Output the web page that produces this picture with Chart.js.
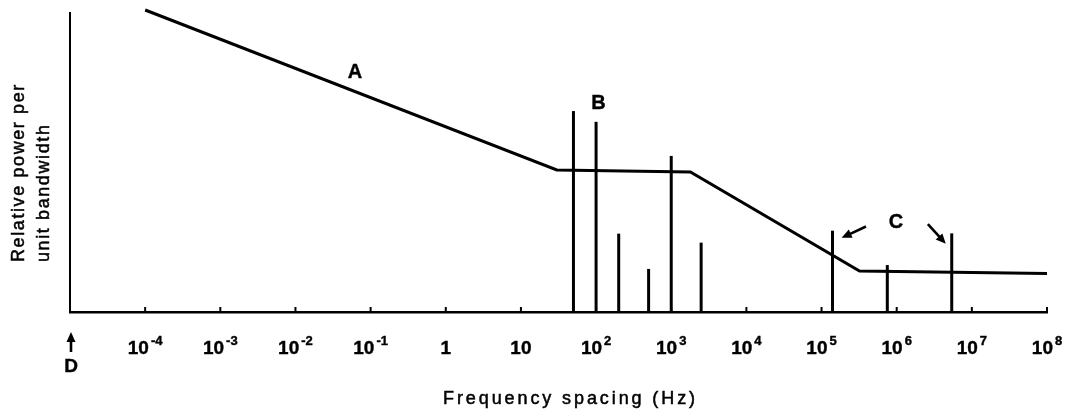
<!DOCTYPE html>
<html>
<head>
<meta charset="utf-8">
<script src="https://cdn.jsdelivr.net/npm/chart.js@4.4.1/dist/chart.umd.min.js"></script>
<style>
  html, body { margin: 0; padding: 0; background: #fff; }
  #wrap { width: 1068px; height: 413px; }
</style>
</head>
<body>
<div id="wrap"><canvas id="spectrum"></canvas></div>
<script>
// curve A (continuous spectrum), frequency spacing in Hz vs relative power
const curveHz = [1e-4, 30, 1800, 3.2e5, 1e8];
const curvePower = [101, 47.5, 46.8, 13.7, 12.9];

// discrete lines (B group and C group)
const lineHz = [50, 100, 200, 500, 1000, 2500, 1.4e5, 7.5e5, 5.4e6];
const linePower = [67.2, 63.6, 26.2, 14.4, 52.2, 23.2, 27.2, 15.7, 26.3];

// decade ticks on the x axis
const tickExponents = [-4, -3, -2, -1, 0, 1, 2, 3, 4, 5, 6, 7, 8];

// letter labels
const noteText = ["A", "B", "C"];
const noteHz = [0.062, 108, 9.8e5];
const notePower = [80, 69.6, 30.1];

// arrows next to C
const arrowFromHz = [3.9e5, 2.6e6];
const arrowFromPower = [28.6, 29.4];
const arrowToHz = [1.85e5, 4.5e6];
const arrowToPower = [24.8, 22.8];

const ink = "#000";
const face = "'Liberation Sans', Arial, Helvetica, sans-serif";

function arrowHead(ctx, x0, y0, x1, y1, size) {
  const a = Math.atan2(y1 - y0, x1 - x0);
  ctx.beginPath();
  ctx.moveTo(x1, y1);
  ctx.lineTo(x1 - size * Math.cos(a - 0.42), y1 - size * Math.sin(a - 0.42));
  ctx.lineTo(x1 - size * Math.cos(a + 0.42), y1 - size * Math.sin(a + 0.42));
  ctx.closePath();
  ctx.fill();
}

function arrow(ctx, x0, y0, x1, y1, size) {
  const a = Math.atan2(y1 - y0, x1 - x0);
  ctx.beginPath();
  ctx.moveTo(x0, y0);
  ctx.lineTo(x1 - size * 0.6 * Math.cos(a), y1 - size * 0.6 * Math.sin(a));
  ctx.stroke();
  arrowHead(ctx, x0, y0, x1, y1, size);
}

// slightly heavier text, like the printed original
function heavyText(ctx, t, px, py) {
  ctx.fillText(t, px, py);
  ctx.strokeText(t, px, py);
}

const decorations = {
  id: "decorations",
  afterDraw(chart) {
    const { ctx, chartArea, scales: { x, y } } = chart;
    const bottom = chartArea.bottom;
    ctx.save();
    ctx.strokeStyle = ink;
    ctx.fillStyle = ink;

    // small inward ticks and the decade labels
    tickExponents.forEach(e => {
      const px = x.getPixelForValue(Math.pow(10, e));
      ctx.lineWidth = 2;
      ctx.beginPath();
      ctx.moveTo(px, bottom);
      ctx.lineTo(px, bottom - 5);
      ctx.stroke();

      const base = e === 0 ? "1" : "10";
      const sup = (e === 0 || e === 1) ? "" : (e < 0 ? "-" + (-e) : String(e));
      ctx.font = "bold 19px " + face;
      const wb = ctx.measureText(base).width;
      ctx.font = "bold 13px " + face;
      const ws = sup ? ctx.measureText(sup).width + 2 : 0;
      const left = px - (wb + ws) / 2;
      ctx.textAlign = "left";
      ctx.textBaseline = "alphabetic";
      ctx.lineWidth = 0.4;
      ctx.font = "bold 19px " + face;
      heavyText(ctx, base, left, bottom + 42);
      if (sup) {
        ctx.font = "bold 13px " + face;
        heavyText(ctx, sup, left + wb + 2, bottom + 33);
      }
    });

    // D marker at the left end of the axis
    const dx = x.getPixelForValue(1e-5) + 1;
    ctx.lineWidth = 2.6;
    ctx.beginPath();
    ctx.moveTo(dx, bottom + 40);
    ctx.lineTo(dx, bottom + 27);
    ctx.stroke();
    arrowHead(ctx, dx, bottom + 40, dx, bottom + 20, 11);
    ctx.font = "bold 19px " + face;
    ctx.textAlign = "center";
    ctx.textBaseline = "middle";
    ctx.lineWidth = 0.4;
    heavyText(ctx, "D", dx, bottom + 55);

    // letter annotations
    ctx.font = "bold 20px " + face;
    noteText.forEach((t, i) => {
      heavyText(ctx, t, x.getPixelForValue(noteHz[i]), y.getPixelForValue(notePower[i]));
    });

    // arrows towards the C lines
    ctx.lineWidth = 2.6;
    arrowFromHz.forEach((h, i) => {
      arrow(ctx,
        x.getPixelForValue(h), y.getPixelForValue(arrowFromPower[i]),
        x.getPixelForValue(arrowToHz[i]), y.getPixelForValue(arrowToPower[i]), 11);
    });

    // axis titles
    ctx.font = "18px " + face;
    ctx.lineWidth = 0.5;
    ctx.letterSpacing = "2.9px";
    ctx.textAlign = "center";
    ctx.textBaseline = "alphabetic";
    heavyText(ctx, "Frequency spacing (Hz)", (chartArea.left + chartArea.right) / 2 + 12, bottom + 92);

    ctx.letterSpacing = "1.6px";
    ctx.translate(chartArea.left, bottom);
    ctx.rotate(-Math.PI / 2);
    ctx.textAlign = "left";
    heavyText(ctx, "Relative power per", 50, -46);
    heavyText(ctx, "unit bandwidth", 50, -21);
    ctx.restore();
  }
};

const datasets = [{
  data: curveHz.map((h, i) => ({ x: h, y: curvePower[i] })),
  borderColor: ink,
  borderWidth: 3,
  pointRadius: 0,
  tension: 0,
  clip: false
}].concat(lineHz.map((h, i) => ({
  data: [{ x: h, y: 0 }, { x: h, y: linePower[i] }],
  borderColor: ink,
  borderWidth: 3,
  borderCapStyle: "butt",
  pointRadius: 0,
  clip: false
})));

new Chart(document.getElementById("spectrum"), {
  type: "line",
  data: { datasets },
  options: {
    responsive: true,
    maintainAspectRatio: false,
    animation: false,
    layout: { padding: { left: 70, right: 21, top: 13, bottom: 101 } },
    plugins: { legend: { display: false }, tooltip: { enabled: false } },
    scales: {
      x: {
        type: "logarithmic",
        min: 1e-5,
        max: 1e8,
        grid: { display: false, drawTicks: false },
        border: { display: true, color: ink, width: 2.5 },
        ticks: { display: false }
      },
      y: {
        min: 0,
        max: 100,
        grid: { display: false, drawTicks: false },
        border: { display: true, color: ink, width: 2 },
        ticks: { display: false }
      }
    }
  },
  plugins: [decorations]
});
</script>
</body>
</html>
